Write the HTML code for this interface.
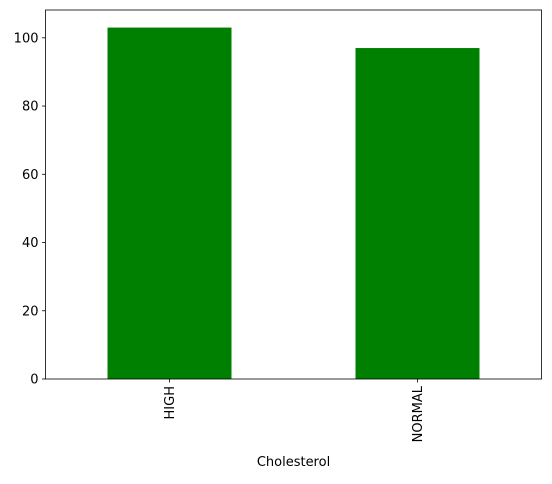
<!DOCTYPE html>
<html><head><meta charset="utf-8"><style>
body{margin:0;background:#fff;font-family:"Liberation Sans","DejaVu Sans",sans-serif}
svg text{font-family:"DejaVu Sans","Liberation Sans",sans-serif;font-size:13px;fill:#000}
</style></head><body>
<svg id="chart" width="552" height="479"></svg>
<script>
const categories = ["HIGH", "NORMAL"];
const counts = [103, 97];
const yTicks = [0, 20, 40, 60, 80, 100];
const xLabel = "Cholesterol";

const L = 45.5, R = 541.5, T = 10, B = 379;
const ymax = Math.max(...counts) * 1.05;
const sx = i => L + (i + 0.5) / categories.length * (R - L);
const sy = v => B - v / ymax * (B - T);
const bw = (R - L) / categories.length * 0.5;
const ns = "http://www.w3.org/2000/svg";
const svg = document.getElementById("chart");
function mk(tag, attrs, parent) {
  const e = document.createElementNS(ns, tag);
  for (const k in attrs) e.setAttribute(k, attrs[k]);
  (parent || svg).appendChild(e);
  return e;
}
categories.forEach((c, i) => {
  const r = mk("rect", {x: sx(i) - bw / 2, y: sy(counts[i]), width: bw, height: B - sy(counts[i]), fill: "#008000"});
  
  
  mk("line", {x1: sx(i), x2: sx(i), y1: B, y2: B + 3.5, stroke: "#000", "stroke-width": 0.8});
  const t = mk("text", {x: 0, y: 0, "text-anchor": "end", transform: `translate(${sx(i) + 4.5},${B + 7}) rotate(-90)`});
  t.textContent = c;
  
  
});
yTicks.forEach(v => {
  mk("line", {x1: L - 3.5, x2: L, y1: sy(v), y2: sy(v), stroke: "#000", "stroke-width": 0.8});
  const t = mk("text", {x: L - 7, y: sy(v) + 4.5, "text-anchor": "end"});
  t.textContent = v;
  
  
});
const frame = mk("rect", {x: L, y: T, width: R - L, height: B - T, fill: "none", stroke: "#000", "stroke-width": 0.8});


const xt = mk("text", {x: (L + R) / 2, y: 466, "text-anchor": "middle"});
xt.textContent = xLabel;


</script>
</body></html>
